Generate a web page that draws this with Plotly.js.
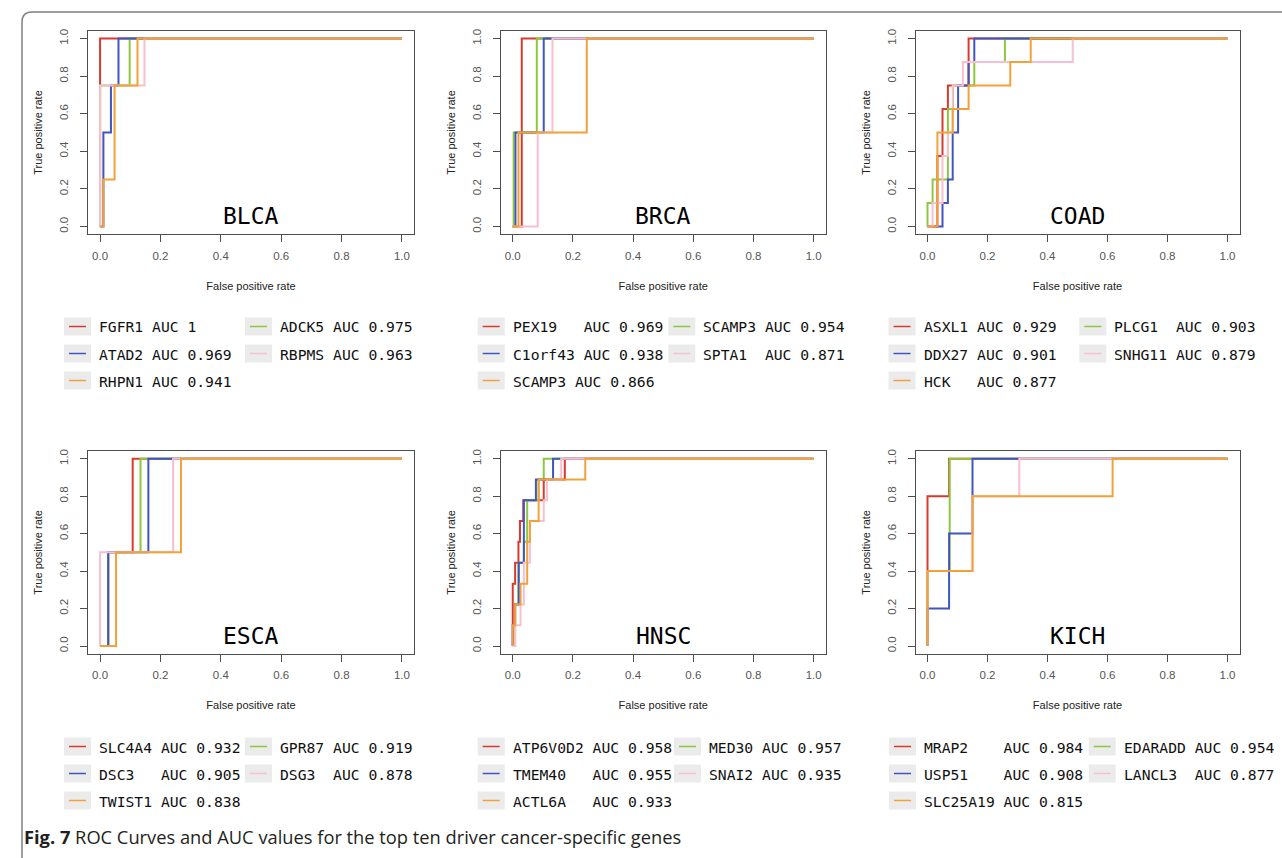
<!DOCTYPE html>
<html><head><meta charset="utf-8">
<script src="https://cdn.plot.ly/plotly-3.0.1.min.js"></script>
<style>html,body{margin:0;padding:0;background:#fff;} #chart{width:1282px;height:858px;}</style>
</head><body><div id="chart"></div>
<script>
// ---------------- data ----------------
const panelNames = ["BLCA","BRCA","COAD","ESCA","HNSC","KICH"];
const tickVals = [0,0.2,0.4,0.6,0.8,1];
const tickText = ["0.0","0.2","0.4","0.6","0.8","1.0"];
const xTitle = "False positive rate";
const yTitle = "True positive rate";
const caption = "<b>Fig. 7</b> ROC Curves and AUC values for the top ten driver cancer-specific genes";
// drawing order inside every panel: red, green, blue, pink, orange
const curveColors = ["#d83a2e","#8dc63f","#3f56c0","#f7bfcf","#f2a13a"];

const BLCA_labels = ["FGFR1 AUC 1","ADCK5 AUC 0.975","ATAD2 AUC 0.969","RBPMS AUC 0.963","RHPN1 AUC 0.941"];
const BLCA_fpr = [[0,0,1],[0,0,0.098,1],[0,0.011,0.036,0.061,1],[0,0,0.147,1],[0,0.011,0.048,0.124,1]];
const BLCA_tpr = [[0,1,1],[0,0.75,1,1],[0,0.5,0.75,1,1],[0,0.75,1,1],[0,0.25,0.75,1,1]];

const BRCA_labels = ["PEX19   AUC 0.969","SCAMP3 AUC 0.954","C1orf43 AUC 0.938","SPTA1  AUC 0.871","SCAMP3 AUC 0.866"];
const BRCA_fpr = [[0,0.030,1],[0,0.003,0.080,1],[0,0.009,0.103,1],[0,0.083,0.132,1],[0,0.019,0.246,1]];
const BRCA_tpr = [[0,1,1],[0,0.5,1,1],[0,0.5,1,1],[0,0.5,1,1],[0,0.5,1,1]];

const COAD_labels = ["ASXL1 AUC 0.929","PLCG1  AUC 0.903","DDX27 AUC 0.901","SNHG11 AUC 0.879","HCK   AUC 0.877"];
const COAD_fpr = [
  [0,0.033,0.050,0.068,0.137,1],
  [0,0,0.017,0.068,0.085,0.156,0.258,1],
  [0,0.050,0.068,0.084,0.102,0.137,0.156,1],
  [0,0.017,0.050,0.068,0.084,0.118,0.484,1],
  [0,0.033,0.084,0.137,0.276,0.344,1]];
const COAD_tpr = [
  [0,0.375,0.625,0.75,1,1],
  [0,0.125,0.25,0.625,0.75,0.875,1,1],
  [0,0.125,0.25,0.5,0.75,0.875,1,1],
  [0,0.125,0.375,0.5,0.75,0.875,1,1],
  [0,0.5,0.625,0.75,0.875,1,1]];

const ESCA_labels = ["SLC4A4 AUC 0.932","GPR87 AUC 0.919","DSC3   AUC 0.905","DSG3  AUC 0.878","TWIST1 AUC 0.838"];
const ESCA_fpr = [[0,0.027,0.108,1],[0,0.027,0.134,1],[0,0.027,0.160,1],[0,0,0.242,1],[0,0.053,0.268,1]];
const ESCA_tpr = [[0,0.5,1,1],[0,0.5,1,1],[0,0.5,1,1],[0,0.5,1,1],[0,0.5,1,1]];

const HNSC_labels = ["ATP6V0D2 AUC 0.958","MED30 AUC 0.957","TMEM40   AUC 0.955","SNAI2 AUC 0.935","ACTL6A   AUC 0.933"];
const HNSC_fpr = [
  [0,0,0.008,0.019,0.024,0.035,0.103,0.173,1],
  [0,0.008,0.019,0.037,0.048,0.086,0.103,1],
  [0,0,0.008,0.020,0.037,0.077,0.134,1],
  [0,0.008,0.026,0.037,0.057,0.103,0.114,0.161,1],
  [0,0,0.008,0.026,0.048,0.057,0.086,0.241,1]];
const HNSC_tpr = [
  [0,0.333,0.444,0.556,0.667,0.778,0.889,1,1],
  [0,0.222,0.444,0.556,0.778,0.889,1,1],
  [0,0.111,0.222,0.444,0.778,0.889,1,1],
  [0,0.111,0.222,0.444,0.667,0.778,0.889,1,1],
  [0,0.111,0.222,0.333,0.556,0.667,0.889,1,1]];

const KICH_labels = ["MRAP2    AUC 0.984","EDARADD AUC 0.954","USP51    AUC 0.908","LANCL3  AUC 0.877","SLC25A19 AUC 0.815"];
const KICH_fpr = [[0,0,0.072,1],[0,0,0.074,1],[0,0,0.072,0.150,1],[0,0,0.150,0.306,1],[0,0,0.150,0.617,1]];
const KICH_tpr = [[0,0.8,1,1],[0,0.4,1,1],[0,0.2,0.6,1,1],[0,0.4,0.8,1,1],[0,0.4,0.8,1,1]];

const panelLabels = [BLCA_labels,BRCA_labels,COAD_labels,ESCA_labels,HNSC_labels,KICH_labels];
const panelFpr = [BLCA_fpr,BRCA_fpr,COAD_fpr,ESCA_fpr,HNSC_fpr,KICH_fpr];
const panelTpr = [BLCA_tpr,BRCA_tpr,COAD_tpr,ESCA_tpr,HNSC_tpr,KICH_tpr];

// ---------------- layout geometry (pixels) ----------------
const W = 1282, H = 858;
const px = v => v / W;
const py = v => 1 - v / H;
const colX = [[88,414],[500.7,825.7],[915.5,1239.5]];
const rowY = [[31,234],[451.2,653.5]];
const legCol1 = [64,477.7,888.5,64,477.7,889];
const legCol2 = [245,668.3,1079.3,245,674,1088.7];
const legRow0 = [326.5,326.5,326.5,746.5,746.5,746.5];
const legGap = 27;

const monoFont = "DejaVu Sans Mono, Liberation Mono, monospace";
const axisFont = "Liberation Sans, Arial, sans-serif";

const traces = [];
const layout = {
  width: W, height: H,
  margin: {l:0, r:0, t:0, b:0},
  paper_bgcolor: "#ffffff", plot_bgcolor: "#ffffff",
  showlegend: false,
  shapes: [], annotations: []
};

const nbsp = s => s.replace(/ /g, "\u00A0");

for (let p = 0; p < 6; p++) {
  const r = Math.floor(p / 3), c = p % 3;
  const sfx = p === 0 ? "" : String(p + 1);
  const xa = "x" + sfx, ya = "y" + sfx;
  for (let k = 0; k < 5; k++) {
    traces.push({
      type: "scatter", mode: "lines",
      x: panelFpr[p][k], y: panelTpr[p][k],
      xaxis: xa, yaxis: ya,
      line: {color: curveColors[k], width: 2, shape: "hv"},
      name: panelLabels[p][k], hoverinfo: "name"
    });
  }
  const common = {
    range: [-0.04, 1.04], showgrid: false, zeroline: false,
    showline: true, mirror: true, linecolor: "#4d4d4d", linewidth: 1,
    ticks: "outside", ticklen: 7, tickcolor: "#4d4d4d", tickwidth: 1,
    tickvals: tickVals, ticktext: tickText,
    tickfont: {family: axisFont, size: 11.5, color: "#555555"},
    fixedrange: true
  };
  layout["xaxis" + sfx] = Object.assign({}, common, {
    domain: [px(colX[c][0]), px(colX[c][1])],
    anchor: ya, ticklabelstandoff: 4,
    title: {text: xTitle, font: {family: axisFont, size: 11, color: "#222222"}, standoff: 21}
  });
  layout["yaxis" + sfx] = Object.assign({}, common, {
    domain: [py(rowY[r][1]), py(rowY[r][0])],
    anchor: xa, tickangle: -90, ticklabelstandoff: 7,
    title: {text: yTitle, font: {family: axisFont, size: 11, color: "#222222"}, standoff: 13}
  });
  // panel title
  layout.annotations.push({
    xref: xa, yref: ya, x: 0.5, y: 0.055, xanchor: "center", yanchor: "middle",
    text: panelNames[p], showarrow: false,
    font: {family: monoFont, size: 23, color: "#000000"}
  });
  // manual legend (R style, 2 columns filled row-wise)
  for (let k = 0; k < 5; k++) {
    const row = Math.floor(k / 2), col = k % 2;
    const bx = col === 0 ? legCol1[p] : legCol2[p];
    const cy = legRow0[p] + row * legGap;
    layout.shapes.push({
      type: "rect", xref: "paper", yref: "paper", layer: "below",
      x0: px(bx), x1: px(bx + 27), y0: py(cy - 9), y1: py(cy + 9),
      fillcolor: "#ebebeb", line: {width: 0}
    });
    layout.shapes.push({
      type: "line", xref: "paper", yref: "paper",
      x0: px(bx + 5), x1: px(bx + 22), y0: py(cy), y1: py(cy),
      line: {color: curveColors[k], width: 1.5}
    });
    layout.annotations.push({
      xref: "paper", yref: "paper", x: px(bx + 33), y: py(cy + 0.5),
      xanchor: "left", yanchor: "middle", showarrow: false,
      text: nbsp(panelLabels[p][k]),
      font: {family: monoFont, size: 14.7, color: "#111111"}
    });
  }
}

// outer figure frame
layout.shapes.push({
  type: "path", xref: "paper", yref: "paper",
  path: `M ${px(22)},${py(858)} L ${px(22)},${py(22)} Q ${px(22)},${py(12)} ${px(32)},${py(12)} L ${px(1282)},${py(12)}`,
  line: {color: "#808080", width: 1.5}
});
// caption
layout.annotations.push({
  xref: "paper", yref: "paper", x: px(22), y: py(836),
  xanchor: "left", yanchor: "middle", showarrow: false,
  text: caption,
  font: {family: "Open Sans, Noto Sans, sans-serif", size: 18.3, color: "#231f20"}
});

Plotly.newPlot("chart", traces, layout, {displayModeBar: false, staticPlot: true});
</script>
</body></html>
